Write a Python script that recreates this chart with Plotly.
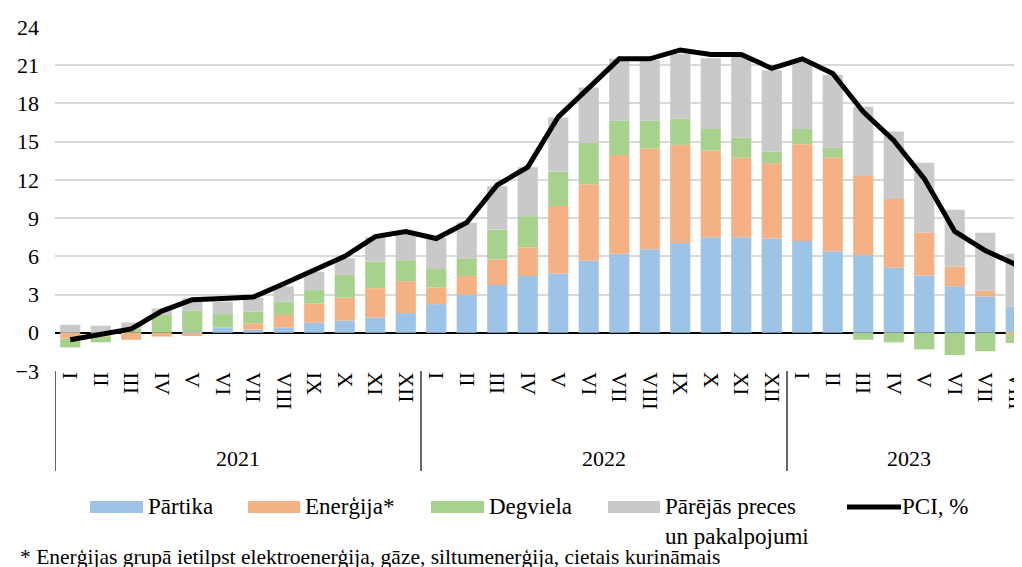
import plotly.graph_objects as go

# ---------------- data ----------------
years = ["2021", "2022", "2023"]
months_full = ["I", "II", "III", "IV", "V", "VI", "VII", "VIII", "IX", "X", "XI", "XII"]
months_2023 = ["I", "II", "III", "IV", "V", "VI", "VII", "VIII"]
month_labels = months_full + months_full + months_2023
year_of = ["2021"] * 12 + ["2022"] * 12 + ["2023"] * 8
categories = [f"{y} {m}" for y, m in zip(year_of, month_labels)]

partika = [0, 0, 0, 0, 0.1, 0.4, 0.25, 0.4, 0.8, 0.95, 1.2, 1.55,
           2.25, 3.0, 3.75, 4.45, 4.65, 5.65, 6.2, 6.55, 7.05, 7.5, 7.5, 7.4,
           7.2, 6.4, 6.1, 5.1, 4.5, 3.65, 2.85, 2.05]
energija = [-0.45, -0.3, -0.55, -0.3, -0.25, 0, 0.5, 1.0, 1.5, 1.8, 2.3, 2.5,
            1.3, 1.45, 2.0, 2.25, 5.3, 6.0, 7.75, 7.9, 7.7, 6.8, 6.25, 5.9,
            7.6, 7.35, 6.2, 5.4, 3.35, 1.55, 0.45, -0.1]
degviela = [-0.7, -0.45, 0.35, 1.4, 1.65, 1.07, 0.9, 1.05, 1.05, 1.8, 2.1, 1.65,
            1.45, 1.4, 2.35, 2.45, 2.7, 3.25, 2.7, 2.2, 2.05, 1.7, 1.55, 0.9,
            1.2, 0.8, -0.55, -0.75, -1.3, -1.75, -1.45, -0.7]
parejas = [0.63, 0.55, 0.45, 0.5, 0.95, 0.97, 1.1, 1.2, 1.45, 1.3, 1.9, 2.15,
           2.45, 2.8, 3.4, 3.85, 4.25, 4.35, 4.85, 4.75, 5.1, 5.55, 6.45, 6.4,
           5.3, 5.7, 5.45, 5.3, 5.5, 4.45, 4.55, 4.15]
pci = [-0.55, -0.15, 0.3, 1.7, 2.6, 2.7, 2.8, 3.85, 4.9, 6.0, 7.55, 7.95,
       7.4, 8.65, 11.6, 13.0, 16.95, 19.25, 21.5, 21.5, 22.2, 21.85, 21.85, 20.75,
       21.5, 20.35, 17.35, 15.1, 12.1, 7.95, 6.45, 5.35]

series_names = ["Pārtika", "Enerģija*", "Degviela", "Pārējās preces<br>un pakalpojumi"]
series_vals = [partika, energija, degviela, parejas]
series_colors = ["#9DC3E6", "#F4B183", "#A9D18E", "#C9C9C9"]
line_name = "PCI, %"
footnote = "* Enerģijas grupā ietilpst elektroenerģija, gāze, siltumenerģija, cietais kurināmais"

FONT = "Liberation Serif, Times New Roman, serif"

# ---------------- layout geometry (page pixels) ----------------
OFF = 8                      # default page body margin
PAGE_W, PAGE_H = 1022, 567
W, H = PAGE_W - OFF, PAGE_H - OFF
L, R, T, B = 55, 1022, 27, 371   # plot area in page pixels
CAT_PX = 30.5


def px(x):
    return (x - L) / (R - L)


def py(y):
    return (B - y) / (B - T)


fig = go.Figure()
for name, vals, col in zip(series_names, series_vals, series_colors):
    fig.add_trace(go.Bar(x=categories, y=vals, name=name, marker_color=col,
                         marker_line_width=0, showlegend=False))
fig.add_trace(go.Scatter(x=categories, y=pci, name=line_name, mode="lines",
                         line=dict(color="black", width=5), showlegend=False))

shapes = []
annotations = []

# year group separators and labels
n_per_year = [year_of.count(y) for y in years]
start = 0
for y, n in zip(years, n_per_year):
    shapes.append(dict(type="line", xref="x", yref="paper", x0=start - 0.5, x1=start - 0.5,
                       y0=py(371), y1=py(471), line=dict(color="black", width=1.2)))
    annotations.append(dict(xref="x", yref="paper", x=start + (n - 1) / 2, y=py(458),
                            text=y, showarrow=False, xanchor="center", yanchor="middle",
                            font=dict(family=FONT, size=22, color="black")))
    start += n

# custom legend
legend_boxes = [(90, 143, 146), (248, 300, 303), (431, 484, 487), (608, 660, 663)]
for (x0, x1, tx), name, col in zip(legend_boxes, series_names, series_colors):
    shapes.append(dict(type="rect", xref="paper", yref="paper", x0=px(x0), x1=px(x1),
                       y0=py(513), y1=py(501), fillcolor=col, line=dict(width=0)))
    annotations.append(dict(xref="paper", yref="paper", x=px(tx), y=py(492),
                            text=name, showarrow=False, xanchor="left", yanchor="top",
                            align="left",
                            font=dict(family=FONT, size=23, color="black")))
shapes.append(dict(type="line", xref="paper", yref="paper", x0=px(847), x1=px(901),
                   y0=py(507), y1=py(507), line=dict(color="black", width=5)))
annotations.append(dict(xref="paper", yref="paper", x=px(900), y=py(492),
                        text=line_name, showarrow=False, xanchor="left", yanchor="top",
                        font=dict(family=FONT, size=23, color="black")))

# footnote
annotations.append(dict(xref="paper", yref="paper", x=px(18), y=py(557),
                        text=footnote, showarrow=False, xanchor="left", yanchor="middle",
                        font=dict(family=FONT, size=21.5, color="black")))

fig.update_layout(
    width=W, height=H,
    margin=dict(l=L - OFF, r=PAGE_W - R, t=T - OFF, b=PAGE_H - B, pad=0, autoexpand=False),
    paper_bgcolor="white", plot_bgcolor="white",
    barmode="relative", bargap=0.34,
    font=dict(family=FONT, size=22, color="black"),
    shapes=shapes, annotations=annotations,
    xaxis=dict(type="category", range=[-0.5, -0.5 + (R - L) / CAT_PX], automargin=False,
               tickmode="array", tickvals=categories, ticktext=month_labels,
               tickangle=90, ticks="", showgrid=False, zeroline=False, showline=False,
               tickfont=dict(family=FONT, size=22, color="black")),
    yaxis=dict(range=[-3, 24], dtick=3, tick0=0, showgrid=True, gridcolor="#D9D9D9",
               gridwidth=2, zeroline=True, zerolinecolor="black", zerolinewidth=1.5,
               ticks="", ticklabelstandoff=15, showline=False, automargin=False,
               tickfont=dict(family=FONT, size=22, color="black")),
)

fig.write_html("out.html")
